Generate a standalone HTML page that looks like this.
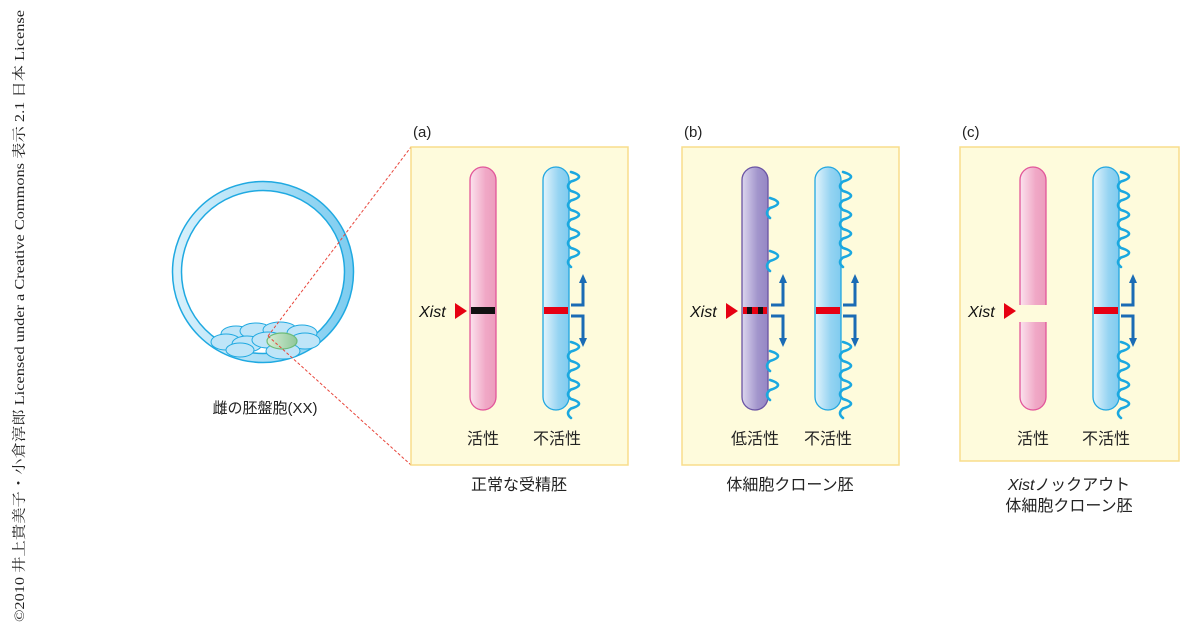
<!DOCTYPE html>
<html><head><meta charset="utf-8"><style>
html,body{margin:0;padding:0;background:#fff;}
svg{display:block;}
</style></head><body>
<svg width="1200" height="638" viewBox="0 0 1200 638" xmlns="http://www.w3.org/2000/svg" font-family="Liberation Sans, Noto Sans CJK JP, sans-serif">
<defs>
<linearGradient id="pk" x1="0" x2="1"><stop offset="0" stop-color="#fbe3ee"/><stop offset="0.6" stop-color="#f0a8c6"/><stop offset="1" stop-color="#ec9cbd"/></linearGradient>
<linearGradient id="bl" x1="0" x2="1"><stop offset="0" stop-color="#e4f4fc"/><stop offset="0.6" stop-color="#95d4f2"/><stop offset="1" stop-color="#80cbef"/></linearGradient>
<linearGradient id="pu" x1="0" x2="1"><stop offset="0" stop-color="#dcd6ee"/><stop offset="0.6" stop-color="#a295cc"/><stop offset="1" stop-color="#9587c4"/></linearGradient>
<linearGradient id="ring" x1="0" x2="1"><stop offset="0" stop-color="#d8f0fb"/><stop offset="1" stop-color="#7fcdf0"/></linearGradient>
<linearGradient id="gr" x1="0" x2="1"><stop offset="0" stop-color="#d6eed6"/><stop offset="1" stop-color="#8fc79a"/></linearGradient>
</defs>

<text transform="translate(24,622) rotate(-90)" style="font-family:'Liberation Serif','Noto Serif CJK SC',serif" font-size="14" fill="#222" textLength="612" lengthAdjust="spacingAndGlyphs">©2010 井上貴美子・小倉淳郎 Licensed under a Creative Commons 表示 2.1 日本 License</text>

<!-- blastocyst -->
<circle cx="263" cy="272" r="86" fill="none" stroke="url(#ring)" stroke-width="9"/>
<circle cx="263" cy="272" r="90.5" fill="none" stroke="#1fa9e1" stroke-width="1.5"/>
<circle cx="263" cy="272" r="81.5" fill="none" stroke="#1fa9e1" stroke-width="1.5"/>
<g fill="#bfe5f8" stroke="#1fa9e1" stroke-width="1">
<ellipse cx="236" cy="334" rx="15" ry="8"/>
<ellipse cx="256" cy="331" rx="16" ry="8"/>
<ellipse cx="280" cy="330" rx="17" ry="8"/>
<ellipse cx="302" cy="333" rx="15" ry="8"/>
<ellipse cx="226" cy="342" rx="15" ry="8"/>
<ellipse cx="247" cy="344" rx="15" ry="8"/>
<ellipse cx="268" cy="340" rx="16" ry="8"/>
<ellipse cx="305" cy="341" rx="15" ry="8"/>
<ellipse cx="240" cy="350" rx="14" ry="7"/>
<ellipse cx="283" cy="351" rx="17" ry="8"/>
</g>
<ellipse cx="282" cy="341" rx="15" ry="8" fill="url(#gr)" stroke="#6dbb78" stroke-width="1.2"/>
<line x1="268" y1="336" x2="411" y2="147" stroke="#e8463c" stroke-width="1" stroke-dasharray="3,2"/>
<line x1="268" y1="336" x2="411" y2="465" stroke="#e8463c" stroke-width="1" stroke-dasharray="3,2"/>
<text x="265" y="413" font-size="15" text-anchor="middle" fill="#222">雌の胚盤胞(XX)</text>

<!-- panels -->
<g fill="#fefbdc" stroke="#f8dd8c" stroke-width="1.5">
<rect x="411" y="147" width="217" height="318"/>
<rect x="682" y="147" width="217" height="318"/>
<rect x="960" y="147" width="219" height="314"/>
</g>
<g font-size="15" fill="#222">
<text x="413" y="137">(a)</text>
<text x="684" y="137">(b)</text>
<text x="962" y="137">(c)</text>
</g>

<!-- chromosomes -->
<rect x="470" y="167" width="26" height="243" rx="13" fill="url(#pk)" stroke="#e2569a" stroke-width="1.3"/>
<rect x="543" y="167" width="26" height="243" rx="13" fill="url(#bl)" stroke="#22a7e0" stroke-width="1.3"/>
<rect x="742" y="167" width="26" height="243" rx="13" fill="url(#pu)" stroke="#6a54a4" stroke-width="1.3"/>
<rect x="815" y="167" width="26" height="243" rx="13" fill="url(#bl)" stroke="#22a7e0" stroke-width="1.3"/>
<rect x="1020" y="167" width="26" height="243" rx="13" fill="url(#pk)" stroke="#e2569a" stroke-width="1.3"/>
<rect x="1093" y="167" width="26" height="243" rx="13" fill="url(#bl)" stroke="#22a7e0" stroke-width="1.3"/>
<rect x="1018" y="305" width="30" height="17" fill="#fefbdc"/>

<!-- bands -->
<rect x="471" y="307" width="24" height="7" fill="#111"/>
<rect x="544" y="307" width="24" height="7" fill="#e60012"/>
<rect x="816" y="307" width="24" height="7" fill="#e60012"/>
<rect x="1094" y="307" width="24" height="7" fill="#e60012"/>
<rect x="743" y="307" width="24" height="7" fill="#e60012"/>
<rect x="747" y="307" width="5" height="7" fill="#111"/>
<rect x="758" y="307" width="5" height="7" fill="#111"/>

<!-- Xist labels -->
<g font-size="16" font-style="italic" fill="#111">
<text x="419" y="317">Xist</text>
<text x="690" y="317">Xist</text>
<text x="968" y="317">Xist</text>
</g>
<g fill="#e60012">
<polygon points="455,303 467,311 455,319"/>
<polygon points="726,303 738,311 726,319"/>
<polygon points="1004,303 1016,311 1004,319"/>
</g>

<!-- squiggles -->
<g fill="none" stroke="#1aa8e0" stroke-width="2.6" stroke-linecap="round">
<path d="M571 172 q16 4.75 0 9.5 q-6 4.75 0 9.5 q16 4.75 0 9.5 q-6 4.75 0 9.5 q16 4.75 0 9.5 q-6 4.75 0 9.5 q16 4.75 0 9.5 q-6 4.75 0 9.5 q16 4.75 0 9.5 q-6 4.75 0 9.5"/>
<path d="M571 342 q16 4.75 0 9.5 q-6 4.75 0 9.5 q16 4.75 0 9.5 q-6 4.75 0 9.5 q16 4.75 0 9.5 q-6 4.75 0 9.5 q16 4.75 0 9.5 q-6 4.75 0 9.5"/>
<path d="M843 172 q16 4.75 0 9.5 q-6 4.75 0 9.5 q16 4.75 0 9.5 q-6 4.75 0 9.5 q16 4.75 0 9.5 q-6 4.75 0 9.5 q16 4.75 0 9.5 q-6 4.75 0 9.5 q16 4.75 0 9.5 q-6 4.75 0 9.5"/>
<path d="M843 342 q16 4.75 0 9.5 q-6 4.75 0 9.5 q16 4.75 0 9.5 q-6 4.75 0 9.5 q16 4.75 0 9.5 q-6 4.75 0 9.5 q16 4.75 0 9.5 q-6 4.75 0 9.5"/>
<path d="M1121 172 q16 4.75 0 9.5 q-6 4.75 0 9.5 q16 4.75 0 9.5 q-6 4.75 0 9.5 q16 4.75 0 9.5 q-6 4.75 0 9.5 q16 4.75 0 9.5 q-6 4.75 0 9.5 q16 4.75 0 9.5 q-6 4.75 0 9.5"/>
<path d="M1121 342 q16 4.75 0 9.5 q-6 4.75 0 9.5 q16 4.75 0 9.5 q-6 4.75 0 9.5 q16 4.75 0 9.5 q-6 4.75 0 9.5 q16 4.75 0 9.5 q-6 4.75 0 9.5"/>
<path d="M770 198 q16 5 0 10 q-6 5 0 10"/>
<path d="M770 251 q16 5 0 10 q-6 5 0 10"/>
<path d="M770 351 q16 5 0 10 q-6 5 0 10"/>
<path d="M770 380 q16 5 0 10 q-6 5 0 10"/>
</g>

<!-- arrows -->
<g fill="none" stroke="#1a6bb5" stroke-width="3">
<path d="M571 305 H583 V281"/><path d="M571 316 H583 V340"/>
<path d="M771 305 H783 V281"/><path d="M771 316 H783 V340"/>
<path d="M843 305 H855 V281"/><path d="M843 316 H855 V340"/>
<path d="M1121 305 H1133 V281"/><path d="M1121 316 H1133 V340"/>
</g>
<g fill="#1a6bb5">
<polygon points="583,274 579,283 587,283"/><polygon points="583,347 579,338 587,338"/>
<polygon points="783,274 779,283 787,283"/><polygon points="783,347 779,338 787,338"/>
<polygon points="855,274 851,283 859,283"/><polygon points="855,347 851,338 859,338"/>
<polygon points="1133,274 1129,283 1137,283"/><polygon points="1133,347 1129,338 1137,338"/>
</g>

<!-- labels -->
<g font-size="16" fill="#222" text-anchor="middle">
<text x="483" y="444">活性</text>
<text x="557" y="444">不活性</text>
<text x="755" y="444">低活性</text>
<text x="828" y="444">不活性</text>
<text x="1033" y="444">活性</text>
<text x="1106" y="444">不活性</text>
<text x="519" y="490">正常な受精胚</text>
<text x="790" y="490">体細胞クローン胚</text>
<text x="1069" y="490"><tspan font-style="italic">Xist</tspan>ノックアウト</text>
<text x="1069" y="511">体細胞クローン胚</text>
</g>
</svg>
</body></html>
